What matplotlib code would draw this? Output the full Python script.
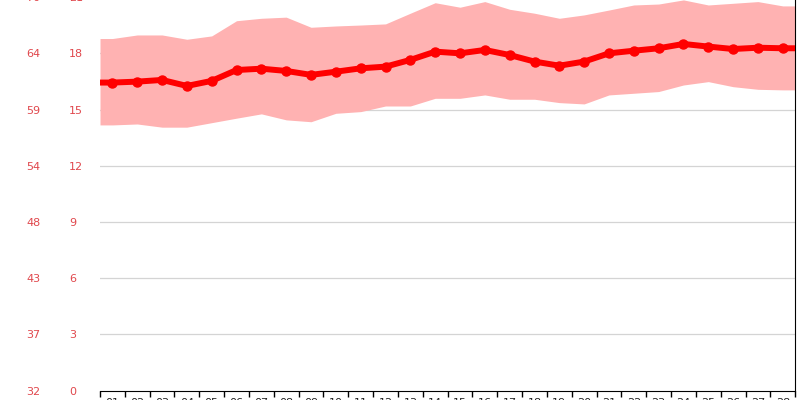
import numpy as np
import matplotlib
matplotlib.use('Agg')
import matplotlib.pyplot as plt

# daily temperature, degrees C
days = ['01', '02', '03', '04', '05', '06', '07', '08', '09', '10', '11', '12', '13', '14',
        '15', '16', '17', '18', '19', '20', '21', '22', '23', '24', '25', '26', '27', '28']
temp_mean = [16.44, 16.49, 16.58, 16.26, 16.53, 17.11, 17.18, 17.06, 16.85, 17.02, 17.20, 17.29, 17.65, 18.09,
             18.00, 18.18, 17.91, 17.56, 17.34, 17.56, 18.00, 18.14, 18.27, 18.50, 18.36, 18.23, 18.30, 18.27]
temp_high = [18.79, 18.98, 18.98, 18.75, 18.93, 19.74, 19.87, 19.93, 19.39, 19.46, 19.51, 19.57, 20.14, 20.70,
             20.46, 20.76, 20.35, 20.14, 19.87, 20.05, 20.31, 20.58, 20.63, 20.85, 20.58, 20.67, 20.76, 20.53]
temp_low = [14.18, 14.23, 14.06, 14.06, 14.30, 14.54, 14.77, 14.45, 14.35, 14.80, 14.89, 15.19, 15.19, 15.60,
            15.60, 15.78, 15.55, 15.55, 15.37, 15.30, 15.78, 15.87, 15.96, 16.31, 16.49, 16.22, 16.08, 16.05]
c_ticks = [0, 3, 6, 9, 12, 15, 18, 21]
f_labels = ['32', '37', '43', '48', '54', '59', '64', '70']

LABEL_RED = '#e0474c'

fig = plt.figure(figsize=(8, 4), dpi=100)
ax = fig.add_axes([0.125, 0.02325, 0.869, 0.984])

x = np.arange(1, len(days) + 1)
# band and line run out to the plot edges
x_ext = np.r_[0.5, x, len(days) + 0.5]
ext = lambda v: np.r_[v[0], v, v[-1]]

ax.fill_between(x_ext, ext(temp_low), ext(temp_high), color='#ffb2b2', lw=0, zorder=2)
ax.plot(x_ext, ext(temp_mean), color='#ff0000', lw=4.3, solid_capstyle='butt', zorder=3)
ax.plot(x, temp_mean, 'o', color='#ff0000', ms=6.5, zorder=4)

ax.set_xlim(0.5, len(days) + 0.5)
ax.set_ylim(0, 21)

for c in c_ticks[1:-1]:
    ax.axhline(c, color='#d4d4d4', lw=0.9, zorder=1)

ax.spines['top'].set_visible(False)
ax.spines['left'].set_visible(False)
ax.spines['right'].set_color('black')
ax.spines['bottom'].set_color('black')

ax.set_xticks(x, days)
ax.set_xticks(np.arange(0.5, len(days) + 1), minor=True)
ax.tick_params(axis='x', which='major', length=0, pad=5.5, labelsize=8, labelcolor='#222222')
ax.tick_params(axis='x', which='minor', length=4, width=1, color='black')

ax.set_yticks(c_ticks, [str(c) for c in c_ticks])
ax.tick_params(axis='y', length=0, pad=22.3, labelsize=8, labelcolor=LABEL_RED)
for lbl in ax.get_yticklabels():
    lbl.set_horizontalalignment('left')

sec = ax.secondary_yaxis('left', functions=(lambda v: v, lambda v: v))
sec.set_yticks(c_ticks, f_labels)
sec.spines['left'].set_visible(False)
sec.tick_params(axis='y', length=0, pad=53.3, labelsize=8, labelcolor=LABEL_RED)
for lbl in sec.get_yticklabels():
    lbl.set_horizontalalignment('left')

fig.savefig('out.png', dpi=100)
